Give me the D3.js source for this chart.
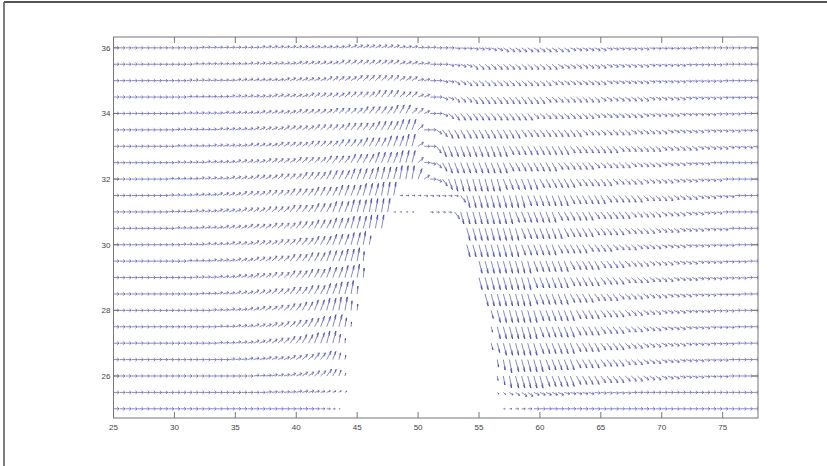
<!DOCTYPE html>
<html>
<head>
<meta charset="utf-8">
<script src="https://cdn.jsdelivr.net/npm/d3@7"></script>
<style>
  body { margin: 0; background: #fff; }
  svg { display: block; }
</style>
</head>
<body>
<svg id="chart"></svg>
<script>
const width = 827;
const height = 466;

// quiver grid (x columns, y rows)
const xCols = [25,25.5,26,26.5,27,27.5,28,28.5,29,29.5,30,30.5,31,31.5,32,32.5,33,33.5,34,34.5,
  35,35.5,36,36.5,37,37.5,38,38.5,39,39.5,40,40.5,41,41.5,42,42.5,43,43.5,44,44.5,
  45,45.5,46,46.5,47,47.5,48,48.5,49,49.5,50,50.5,51,51.5,52,52.5,53,53.5,54,54.5,
  55,55.5,56,56.5,57,57.5,58,58.5,59,59.5,60,60.5,61,61.5,62,62.5,63,63.5,64,64.5,
  65,65.5,66,66.5,67,67.5,68,68.5,69,69.5,70,70.5,71,71.5,72,72.5,73,73.5,74,74.5,
  75,75.5,76,76.5,77,77.5];
const yRows = [36,35.5,35,34.5,34,33.5,33,32.5,32,31.5,31,30.5,30,29.5,29,28.5,28,27.5,27,26.5,26,25.5,25];

const xTicks = [25,30,35,40,45,50,55,60,65,70,75];
const yTicks = [26,28,30,32,34,36];

// vector direction per cell, run-length coded: count + code
// lowercase = pointing up, uppercase = pointing down, "-" = flat, "." = no vector
const angleCodes = {"-": 0, a: 3, b: 6, c: 10, d: 15, e: 20, f: 27, g: 35, h: 45, i: 55, j: 65, k: 75};
const angleRows = [
  "14- 10a 14b 9c 3b 3a 3- 3A 3B 2C 11D 6C 7B 7A 11-",
  "13- 9a 8b 7c 10d 3c 2b 3- 2B 2C 14E 8D 7C 6B 6A 6-",
  "12- 8a 8b 7c 5d 7e 3d 2b 2- 2B 2D 14E 9D 7C 6B 6A 6-",
  "12- 7a 7b 6c 6d 5e 4f 3e 2c 2- 2C 3E 12F 9E 8D 6C 6B 6A 6-",
  "11- 7a 6b 6c 6d 5e 5f 3g 2e 1c 2- 1C 1E 13F 10E 8D 6C 6B 4A 3-",
  "10- 7a 6b 5c 5d 5e 5f 4g 3h 1e 2- 1D 1F 12G 10F 8E 6D 6C 6B 3A",
  "10- 6a 6b 5c 5d 5e 4f 4g 3h 2i 1d 2- 1F 11H 10G 8F 7E 6D 5C 4B 1A",
  "10- 5a 5b 5c 5d 5e 4f 4g 4h 3i 1e 1- 1B 1E 1G 10H 8G 6F 6E 5D 4C 4B 8-",
  "9- 5a 5b 4c 4d 4e 4f 4g 4h 4i 3j 1h 1d 1- 1C 1F 1H 8I 6H 6G 6F 5E 5D 4C 4B 6-",
  "9- 4a 4b 4c 4d 4e 4f 4g 4h 3i 3j 4- 6A 1F 10I 7H 6G 6F 5E 4D 3C 3B 4-",
  "9- 4a 4b 4c 4d 4e 4f 3g 3h 3i 4j 4- 2. 4A 1F 9I 7H 6G 6F 5E 4D 3C 3B 6-",
  "10- 4a 4b 4c 4d 4e 3f 3g 3h 3i 3j 13. 9I 7H 5G 5F 5E 4D 4C 4B 5-",
  "11- 4a 4b 4c 4d 3e 3f 3g 3h 2i 2j 15. 9I 6H 5G 4F 4E 4D 4C 4B 4A 4-",
  "12- 4a 4b 3c 3d 3e 3f 3g 3h 2i 1j 1k 18. 9I 6H 5G 4F 4E 4D 4C 4B 4A 2-",
  "13- 4a 3b 3c 3d 3e 3f 3g 3h 2i 1j 1k 18. 9I 6H 5G 4F 4E 4D 4C 4B 4A 2-",
  "14- 3a 3b 3c 3d 3e 3f 3g 2h 2i 1j 1k 20. 8I 6H 4G 4F 4E 4D 4C 4B 4A 3-",
  "16- 3a 3b 2c 3d 2e 2f 2g 2h 2i 2j 2k 21. 8I 6H 4G 4F 3E 3D 4C 4B 4A 4-",
  "17- 3a 3b 3c 2d 2e 2f 2g 2h 2i 1j 1k 22. 8I 6H 4G 4F 3E 3D 4C 4B 4A 4-",
  "17- 3a 3b 2c 2d 2e 2f 2g 2h 2i 1j 1k 23. 8I 6H 4G 4F 3E 3D 4C 4B 4A 4-",
  "19- 3a 3b 4c 2d 2e 2f 1g 1h 1i 1j 24. 3J 5I 5H 4G 4F 3E 3D 3C 4B 4A 5-",
  "23- 3a 3b 2c 2d 2e 1f 1g 1h 1i 24. 3J 5I 5H 4G 4F 3E 3D 3C 4B 4A 5-",
  "25- 5a 5b 2c 2d 24. 2E 4D 5C 5B 6A 21-",
  "38- 26. 42-"
];

// vector length per cell, run-length coded: count:level (level 9 = full length)
const magRows = [
  "106:9", "106:9", "106:9", "106:9", "106:9", "106:9", "106:9", "106:9", "106:9",
  "47:9 4:5 6:6 49:9",
  "46:9 4:3 2:0 4:5 50:9",
  "45:9 13:0 48:9",
  "42:9 1:6 15:0 48:9",
  "41:9 1:6 18:0 46:9",
  "41:9 1:6 18:0 46:9",
  "40:9 1:5 20:0 45:9",
  "39:9 1:6 1:4 21:0 1:6 43:9",
  "38:9 1:6 1:3 22:0 1:4 43:9",
  "37:9 1:6 1:3 23:0 1:5 1:7 42:9",
  "36:9 1:7 1:5 1:3 24:0 1:5 1:7 41:9",
  "36:9 1:7 1:5 1:2 24:0 1:3 1:6 1:8 40:9",
  "33:9 1:8 1:7 1:6 1:5 1:4 1:3 24:0 1:3 1:4 1:6 1:7 39:9",
  "33:9 1:8 1:7 1:6 1:4 1:2 26:0 1:3 1:4 1:5 1:6 1:7 37:9"
];

const margin = {left: 113.5, right: 758, top: 37, bottom: 418};

const svg = d3.select('#chart')
    .attr('width', width).attr('height', height);

const x = d3.scaleLinear().domain([25, 77.9]).range([margin.left, margin.right]);
const y = d3.scaleLinear().domain([24.72, 36.33]).range([margin.bottom, margin.top]);

// window frame edges
svg.append('line').attr('x1', 4).attr('x2', width).attr('y1', 2).attr('y2', 2)
    .style('stroke', '#555').style('stroke-width', 2);
svg.append('line').attr('x1', 4).attr('x2', 4).attr('y1', 2).attr('y2', height)
    .style('stroke', '#555').style('stroke-width', 1.5);

svg.append('clipPath').attr('id', 'plotClip')
  .append('rect')
    .attr('x', margin.left).attr('y', margin.top)
    .attr('width', margin.right - margin.left).attr('height', margin.bottom - margin.top);

function expand(s) {
    return s.split(' ').flatMap(t => {
        if (t.includes(':')) {
            const [n, d] = t.split(':');
            return Array(+n).fill(+d);
        }
        return Array(+t.slice(0, -1)).fill(t.slice(-1));
    });
}

const vectors = [];
yRows.forEach((yv, i) => {
    const codes = expand(angleRows[i]);
    const mags = expand(magRows[i]);
    xCols.forEach((xv, j) => {
        const ch = codes[j];
        if (!ch || ch === '.' || !mags[j]) return;
        const deg = ch === ch.toLowerCase() ? angleCodes[ch] : -angleCodes[ch.toLowerCase()];
        const m = mags[j] * 0.05;
        const a = deg * Math.PI / 180;
        vectors.push({x: xv, y: yv, u: m * Math.cos(a), v: m * Math.sin(a)});
    });
});

// quiver arrows, head built in data units like MATLAB's quiver
const alpha = 0.33, beta = 0.33, eps = 1e-9;
function arrowPath(d) {
    const tx = d.x + d.u, ty = d.y + d.v;
    const h1x = tx - alpha * (d.u + beta * (d.v + eps));
    const h1y = ty - alpha * (d.v - beta * (d.u + eps));
    const h2x = tx - alpha * (d.u - beta * (d.v + eps));
    const h2y = ty - alpha * (d.v + beta * (d.u + eps));
    return `M${x(d.x)},${y(d.y)}L${x(tx)},${y(ty)}` +
           `M${x(h1x)},${y(h1y)}L${x(tx)},${y(ty)}L${x(h2x)},${y(h2y)}`;
}

svg.append('g')
    .attr('clip-path', 'url(#plotClip)')
  .selectAll('path')
    .data(vectors)
    .enter().append('path')
    .attr('d', arrowPath)
    .style('fill', 'none')
    .style('stroke', '#3434c4')
    .style('stroke-width', 0.6);

// axes box with inward ticks on all sides
const axisColor = '#777';
const tickLen = 6;
svg.append('rect')
    .attr('x', margin.left).attr('y', margin.top)
    .attr('width', margin.right - margin.left).attr('height', margin.bottom - margin.top)
    .style('fill', 'none').style('stroke', axisColor).style('stroke-width', 1);

const ticks = svg.append('g').style('stroke', axisColor).style('stroke-width', 1);
xTicks.forEach(t => {
    ticks.append('line').attr('x1', x(t)).attr('x2', x(t)).attr('y1', margin.bottom).attr('y2', margin.bottom - tickLen);
    ticks.append('line').attr('x1', x(t)).attr('x2', x(t)).attr('y1', margin.top).attr('y2', margin.top + tickLen);
});
yTicks.forEach(t => {
    ticks.append('line').attr('x1', margin.left).attr('x2', margin.left + tickLen).attr('y1', y(t)).attr('y2', y(t));
    ticks.append('line').attr('x1', margin.right).attr('x2', margin.right - tickLen).attr('y1', y(t)).attr('y2', y(t));
});

svg.append('g').selectAll('text')
    .data(xTicks)
    .enter().append('text')
    .attr('x', d => x(d)).attr('y', margin.bottom + 12)
    .attr('text-anchor', 'middle')
    .style('font-family', 'Liberation Sans, Arial, sans-serif')
    .style('font-size', '8px').style('fill', '#444')
    .text(d => d);

svg.append('g').selectAll('text')
    .data(yTicks)
    .enter().append('text')
    .attr('x', margin.left - 3).attr('y', d => y(d) + 3)
    .attr('text-anchor', 'end')
    .style('font-family', 'Liberation Sans, Arial, sans-serif')
    .style('font-size', '8px').style('fill', '#444')
    .text(d => d);
</script>
</body>
</html>
